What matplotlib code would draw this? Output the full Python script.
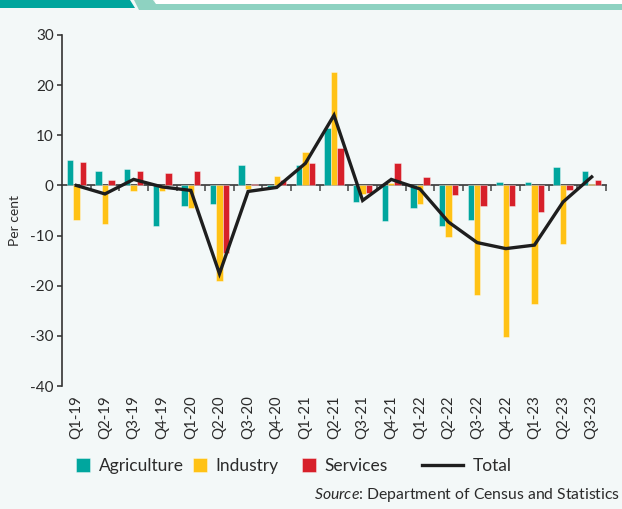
import matplotlib
matplotlib.use('Agg')
import matplotlib.pyplot as plt
import numpy as np
from matplotlib.patches import Polygon, Rectangle
from matplotlib.lines import Line2D
from matplotlib.legend_handler import HandlerPatch

plt.rcParams['font.family'] = ['Lato', 'DejaVu Sans']
plt.rcParams['mathtext.fontset'] = 'custom'
plt.rcParams['mathtext.rm'] = 'Lato'
plt.rcParams['mathtext.it'] = 'Lato:italic'

quarters = ['Q1-19', 'Q2-19', 'Q3-19', 'Q4-19', 'Q1-20', 'Q2-20', 'Q3-20', 'Q4-20',
            'Q1-21', 'Q2-21', 'Q3-21', 'Q4-21', 'Q1-22', 'Q2-22', 'Q3-22', 'Q4-22',
            'Q1-23', 'Q2-23', 'Q3-23']
agriculture = [5.1, 2.9, 3.2, -8.0, -4.2, -3.8, 4.0, -0.3, 4.0, 11.5, -3.3, -7.1,
               -4.6, -8.0, -6.8, 0.6, 0.6, 3.6, 2.8]
industry = [-6.8, -7.6, -1.2, -1.2, -4.6, -19.1, -0.7, 1.8, 6.6, 22.7, -1.7, 0.4,
            -3.8, -10.2, -21.8, -30.3, -23.6, -11.7, 0.3]
services = [4.7, 1.0, 2.9, 2.5, 2.9, -13.5, 0.3, 1.1, 4.4, 7.4, -1.5, 4.4,
            1.7, -2.0, -4.2, -4.2, -5.3, -0.9, 1.0]
total = [0.0, -1.7, 1.2, -0.3, -1.0, -17.6, -1.2, -0.4, 4.4, 14.0, -3.0, 1.2,
         -0.7, -7.3, -11.4, -12.6, -11.9, -3.3, 1.7]
yticks = [-40, -30, -20, -10, 0, 10, 20, 30]

BG = '#F3F8F8'
C_AGR = '#00A69E'
C_IND = '#FFC215'
C_SER = '#D7202A'
C_TOT = '#1E1E1E'
TXT = '#2B2B2B'

W, H = 622, 509
fig = plt.figure(figsize=(W / 100, H / 100), dpi=100, facecolor=BG)
ax = fig.add_axes([62 / W, 1 - 386 / H, (606 - 62) / W, (386 - 35) / H])
ax.set_facecolor(BG)

x = np.arange(len(quarters))
bw = 0.224
edge = (1, 1, 1, 0.45)
b1 = ax.bar(x - bw, agriculture, bw, color=C_AGR, edgecolor=edge, linewidth=0.6, zorder=2)
b2 = ax.bar(x, industry, bw, color=C_IND, edgecolor=edge, linewidth=0.6, zorder=2)
b3 = ax.bar(x + bw, services, bw, color=C_SER, edgecolor=edge, linewidth=0.6, zorder=2)
ln, = ax.plot(x, total, color=C_TOT, lw=2.4, zorder=5, solid_joinstyle='miter')

ax.set_xlim(-0.5, len(quarters) - 0.5)
ax.set_ylim(-40, 30)
ax.set_yticks(yticks)
ax.set_yticklabels([str(v) for v in yticks])
ax.set_xticks(x)
ax.set_xticklabels(quarters, rotation=90)
ax.tick_params(axis='x', length=0, pad=6.5, labelsize=10.8, colors=TXT)
ax.tick_params(axis='y', direction='out', length=3.5, width=1.1, pad=2.5,
               labelsize=11, colors=TXT)
for s in ['top', 'right', 'bottom']:
    ax.spines[s].set_visible(False)
ax.spines['left'].set_color('#333333')
ax.spines['left'].set_linewidth(1.2)

# zero line with group-boundary ticks
sec = ax.secondary_xaxis(0, transform=ax.transData)
sec.set_xticks(np.arange(len(quarters)) + 0.5)
sec.tick_params(axis='x', direction='out', length=4, width=1.1, color='#444444',
                labelbottom=False, labeltop=False)
for s in sec.spines.values():
    s.set_color('#444444')
    s.set_linewidth(1.3)

fig.text(15 / W, 1 - 220 / H, 'Per cent', rotation=90, ha='center', va='center',
         fontsize=10, color=TXT)


def make_square(legend, orig_handle, xdescent, ydescent, width, height, fontsize):
    s = 13 / 100 * 72
    return Rectangle((-xdescent, -ydescent + (height - s) / 2), s, s)


ly = 1 - 466 / H
entries = [(b1, 'Agriculture', 76), (b2, 'Industry', 193), (b3, 'Services', 302)]
for h, lab, px in entries:
    fig.legend([h], [lab], loc='center left', bbox_to_anchor=(px / W, ly),
               frameon=False, borderpad=0, borderaxespad=0, handlelength=0.8,
               handleheight=0.8, handletextpad=0.5, fontsize=12.5, labelcolor=TXT,
               handler_map={type(h[0]): HandlerPatch(patch_func=make_square)})
fig.legend([Line2D([], [], color=C_TOT, lw=2.4)], ['Total'], loc='center left',
           bbox_to_anchor=(422 / W, ly), frameon=False, borderpad=0,
           borderaxespad=0, handlelength=2.35, handletextpad=0.6, fontsize=12.5,
           labelcolor=TXT)

fig.text(620 / W, 1 - 495 / H, r'$\mathit{Source}$: Department of Census and Statistics',
         ha='right', va='center', fontsize=11.3, color=TXT)

# header banner
def px(pts):
    return [(a / W, 1 - b / H) for a, b in pts]

fig.add_artist(Rectangle((155 / W, 1 - 4 / H), 1, 4 / H, transform=fig.transFigure,
                         color='white', lw=0))
fig.add_artist(Polygon(px([(0, 0), (130, 0), (135, 8), (0, 8)]), closed=True,
                       transform=fig.transFigure, color='#00A59D', lw=0))
fig.add_artist(Polygon(px([(134, 0), (153, 0), (156, 4), (622, 4), (622, 10), (139, 10)]),
                       closed=True, transform=fig.transFigure, color='#8ED2C1', lw=0))

fig.savefig('out.png', dpi=100, facecolor=BG)
